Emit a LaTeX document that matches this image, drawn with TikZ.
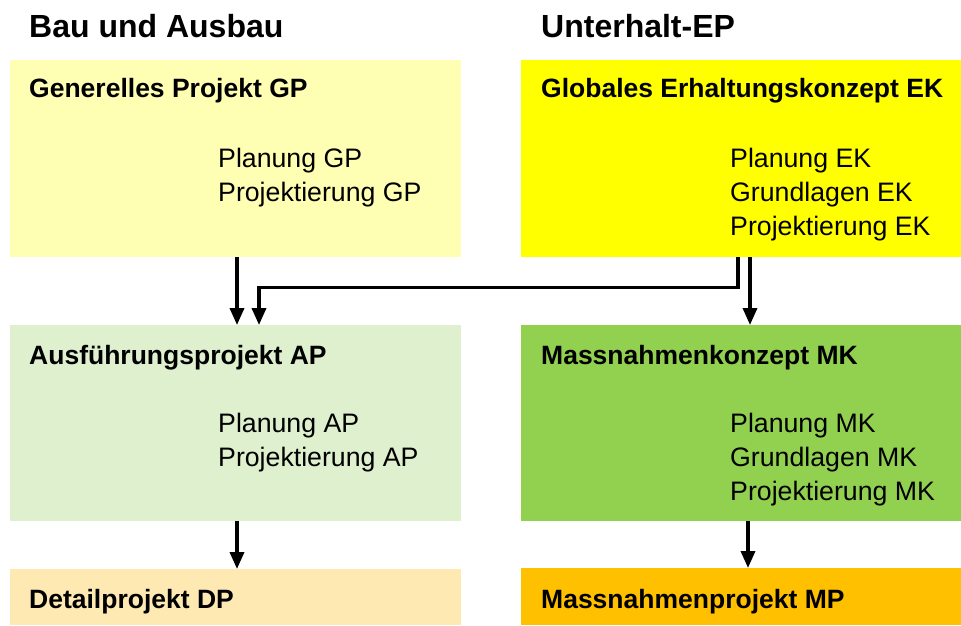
\documentclass[tikz,border=0pt]{standalone}
\usepackage{fontspec}
\setmainfont{Liberation Sans}
\usetikzlibrary{arrows.meta,calc}

\definecolor{gpfill}{RGB}{255,255,179}
\definecolor{ekfill}{RGB}{255,255,0}
\definecolor{apfill}{RGB}{222,240,206}
\definecolor{mkfill}{RGB}{146,208,80}
\definecolor{dpfill}{RGB}{255,233,179}
\definecolor{mpfill}{RGB}{255,192,0}

\tikzset{
  panel/.style={draw=none, inner sep=0pt, anchor=north west},
  heading/.style={inner sep=0pt, anchor=base west, font=\bfseries\fontsize{32}{38}\selectfont},
  boxtitle/.style={inner sep=0pt, anchor=base west, font=\bfseries\fontsize{26.5}{32}\selectfont},
  item/.style={inner sep=0pt, anchor=base west, font=\fontsize{26.7}{34}\selectfont},
  flow/.style={line width=3.5pt, -{Triangle[width=14pt,length=17pt]}}
}

\begin{document}
\begin{tikzpicture}[x=1pt,y=-1pt]
\useasboundingbox (0,0) rectangle (961,625);

% column headings
\node[heading] (hbau) at (29,37) {Bau und Ausbau};
\node[heading] (hunt) at (541,37) {Unterhalt-EP};

% coloured panels
\node[panel, fill=gpfill, minimum width=451pt, minimum height=197pt] (GP) at (10,60) {};
\node[panel, fill=ekfill, minimum width=440pt, minimum height=197pt] (EK) at (521,60) {};
\node[panel, fill=apfill, minimum width=451pt, minimum height=196pt] (AP) at (10,325) {};
\node[panel, fill=mkfill, minimum width=440pt, minimum height=196pt] (MK) at (521,325) {};
\node[panel, fill=dpfill, minimum width=451pt, minimum height=56pt] (DP) at (10,569) {};
\node[panel, fill=mpfill, minimum width=440pt, minimum height=57pt] (MP) at (521,568) {};

% panel titles
\node[boxtitle] (tGP) at (29,97) {Generelles Projekt GP};
\node[boxtitle] (tEK) at (541,97) {Globales Erhaltungskonzept EK};
\node[boxtitle] (tAP) at (29,364) {Ausführungsprojekt AP};
\node[boxtitle] (tMK) at (541,364) {Massnahmenkonzept MK};
\node[boxtitle] (tDP) at (29,608) {Detailprojekt DP};
\node[boxtitle] (tMP) at (541,608) {Massnahmenprojekt MP};

% panel contents
\node[item] (gp1) at (218,167) {Planung GP};
\node[item] (gp2) at (218,201) {Projektierung GP};
\node[item] (ek1) at (730,167) {Planung EK};
\node[item] (ek2) at (730,201) {Grundlagen EK};
\node[item] (ek3) at (730,235) {Projektierung EK};
\node[item] (ap1) at (218,432) {Planung AP};
\node[item] (ap2) at (218,466) {Projektierung AP};
\node[item] (mk1) at (730,432) {Planung MK};
\node[item] (mk2) at (730,466) {Grundlagen MK};
\node[item] (mk3) at (730,500) {Projektierung MK};

% flow arrows
\draw[flow] ([xshift=227pt]GP.south west) -- ([xshift=227pt]AP.north west);
\draw[flow] ([xshift=217pt]EK.south west) -- ++(0pt,-30pt) -| ([xshift=249pt]AP.north west);
\draw[flow] ([xshift=229pt]EK.south west) -- ([xshift=229pt]MK.north west);
\draw[flow] ([xshift=227pt]AP.south west) -- ([xshift=227pt]DP.north west);
\draw[flow] ([xshift=227pt]MK.south west) -- ([xshift=227pt]MP.north west);
\end{tikzpicture}
\end{document}
